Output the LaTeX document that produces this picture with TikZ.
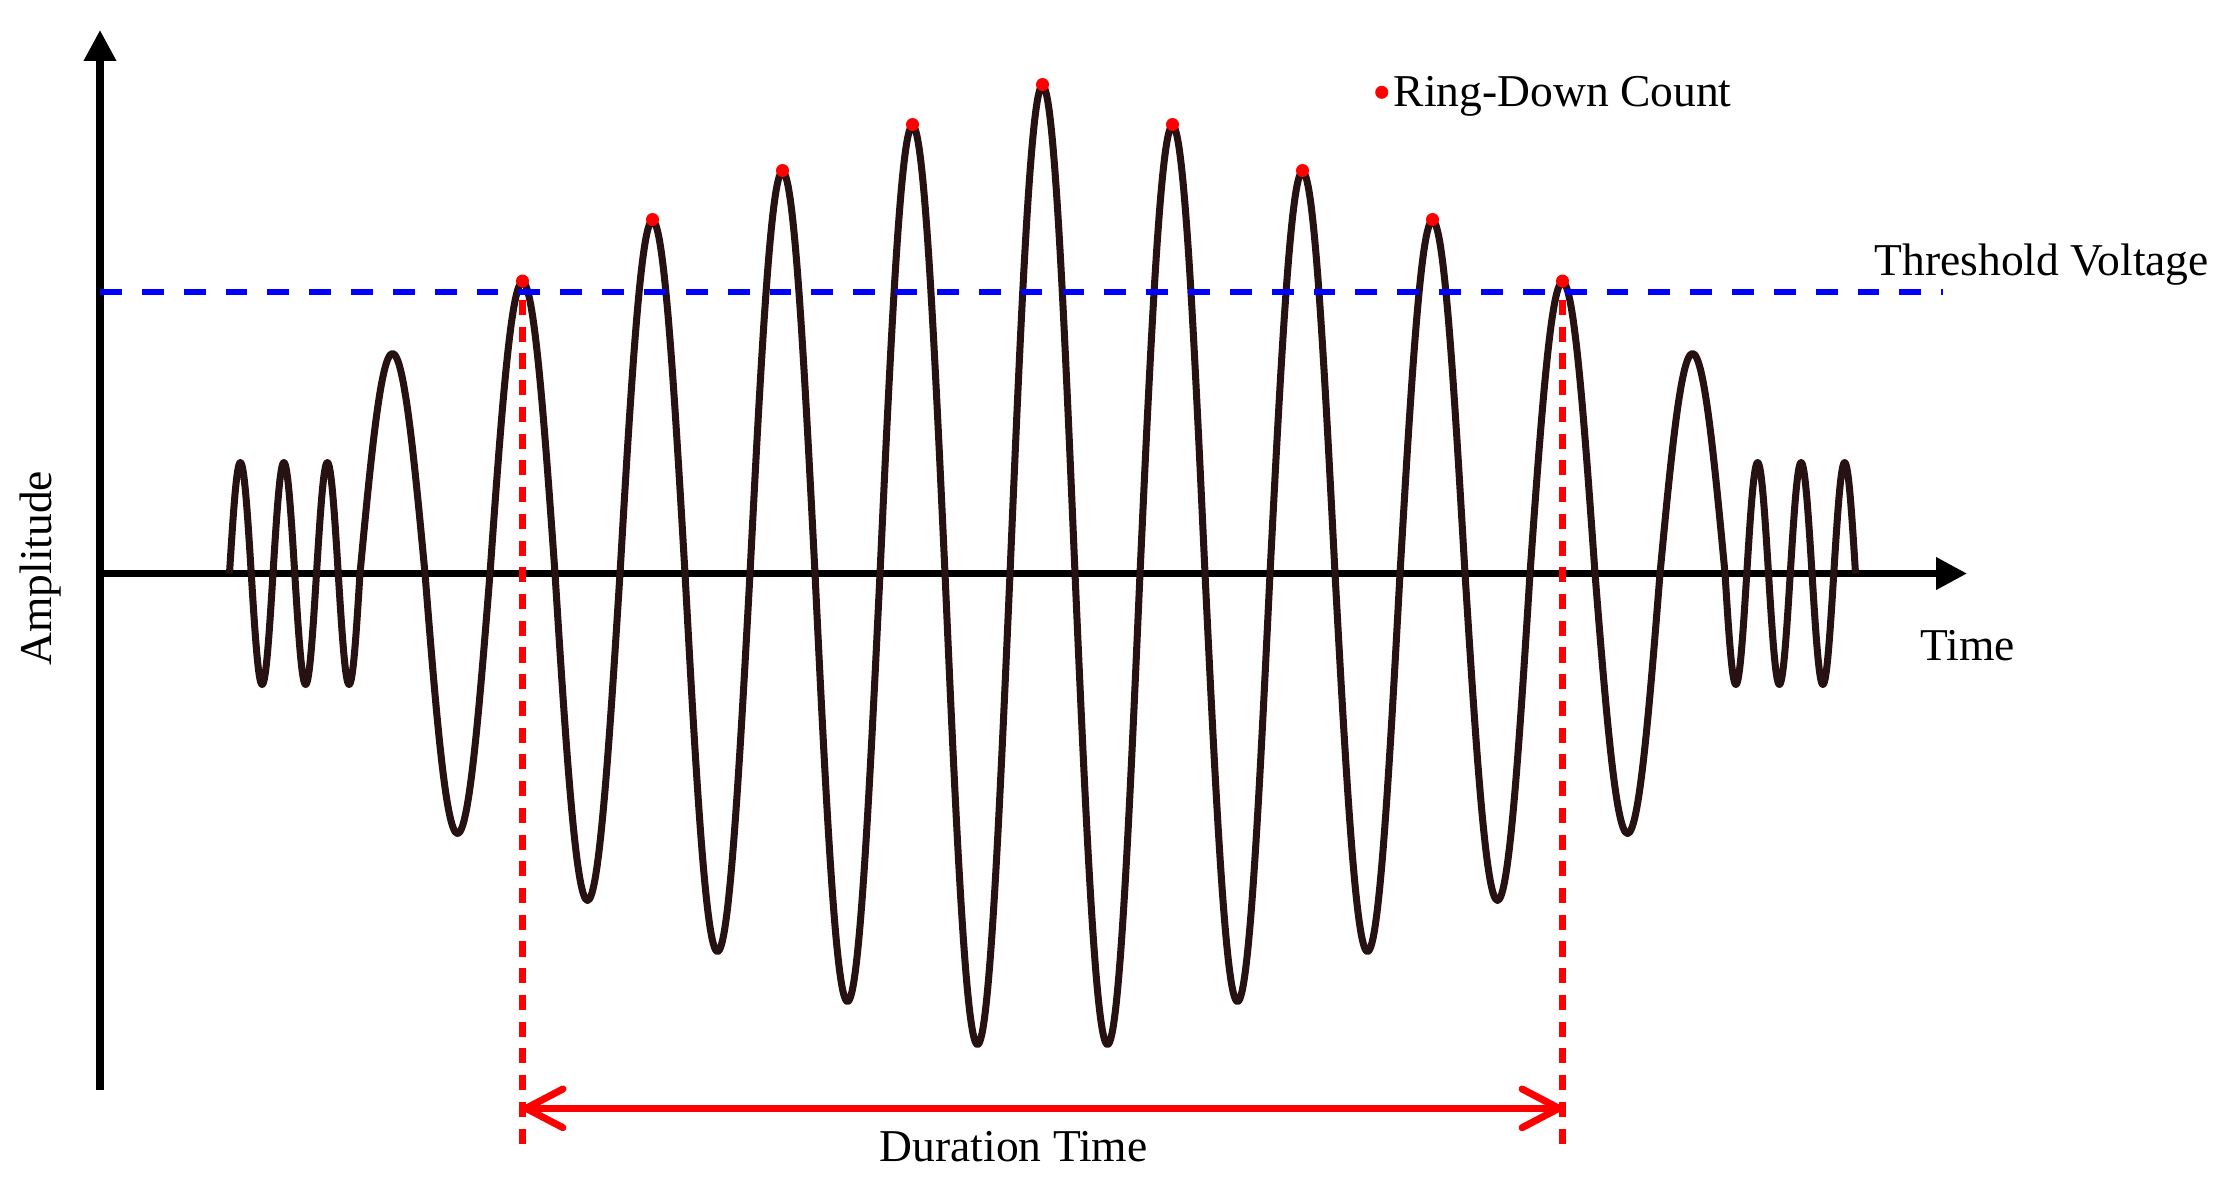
\documentclass[tikz,border=0pt]{standalone}
\usepackage{fontspec}
\setmainfont{Liberation Serif}
\usetikzlibrary{arrows.meta}
\definecolor{wavec}{RGB}{38,18,18}
\definecolor{pured}{RGB}{255,0,0}
\definecolor{pureblue}{RGB}{0,0,255}
\tikzset{
  axisline/.style={line width=2pt, black, -{Triangle[length=8.8pt,width=8.8pt]}},
  waveline/.style={line width=2pt, wavec, line join=round},
  threshline/.style={line width=1.7pt, pureblue, dash pattern=on 6.2pt off 5.7pt},
  durline/.style={line width=1.8pt, pured, dash pattern=on 4.3pt off 3.3pt},
  durarrow/.style={line width=2pt, pured, {Straight Barb[length=10.5pt,width=11pt,round]}-{Straight Barb[length=10.5pt,width=11pt,round]}},
  peakdot/.style={fill=pured, draw=none},
  lbl/.style={font=\fontsize{12.95}{15}\selectfont, inner sep=0pt, anchor=base}
}
\begin{document}
\begin{tikzpicture}[x=0.01cm, y=-0.01cm]
\useasboundingbox (0,0) rectangle (2234,1199);
% coordinates
\coordinate (O) at (100,573.5);
\coordinate (ytop) at (100,30);
\coordinate (ybot) at (100,1090);
\coordinate (xend) at (1967,573.5);
\coordinate (th1) at (100,291.5);
\coordinate (th2) at (1943,291.5);
\coordinate (d1t) at (522.5,300);
\coordinate (d1b) at (522.5,1150);
\coordinate (d2t) at (1562.5,300);
\coordinate (d2b) at (1562.5,1150);
\coordinate (a1) at (522.5,1108.3);
\coordinate (a2) at (1562.5,1108.3);
% axes
\draw[axisline] (ybot) -- (ytop);
\draw[axisline] (O) -- (xend);
% waveform
\draw[waveline] (229.5,573.5)
 sin (240.375,462.5) cos (251.25,573.5)
 sin (262.125,684.5) cos (273,573.5)
 sin (283.875,462.5) cos (294.75,573.5)
 sin (305.625,684.5) cos (316.5,573.5)
 sin (327.375,462.5) cos (338.25,573.5)
 sin (349.125,684.5) cos (360,573.5)
 sin (392.5,353.5) cos (425,573.5)
 sin (457.5,833.5) cos (490,573.5)
 sin (522.5,282) cos (555,573.5)
 sin (587.5,900.5) cos (620,573.5)
 sin (652.5,220.5) cos (685,573.5)
 sin (717.5,951.5) cos (750,573.5)
 sin (782.5,171.5) cos (815,573.5)
 sin (847.5,1001.5) cos (880,573.5)
 sin (912.5,125.5) cos (945,573.5)
 sin (977.5,1044.5) cos (1010,573.5)
 sin (1042.5,85.5) cos (1075,573.5)
 sin (1107.5,1044.5) cos (1140,573.5)
 sin (1172.5,125.5) cos (1205,573.5)
 sin (1237.5,1001.5) cos (1270,573.5)
 sin (1302.5,171.5) cos (1335,573.5)
 sin (1367.5,951.5) cos (1400,573.5)
 sin (1432.5,220.5) cos (1465,573.5)
 sin (1497.5,900.5) cos (1530,573.5)
 sin (1562.5,282) cos (1595,573.5)
 sin (1627.5,833.5) cos (1660,573.5)
 sin (1692.5,353.5) cos (1725,573.5)
 sin (1735.875,684.5) cos (1746.75,573.5)
 sin (1757.625,462.5) cos (1768.5,573.5)
 sin (1779.375,684.5) cos (1790.25,573.5)
 sin (1801.125,462.5) cos (1812,573.5)
 sin (1822.875,684.5) cos (1833.75,573.5)
 sin (1844.625,462.5) cos (1855.5,573.5);
% threshold
\draw[threshline] (th1) -- (th2);
% duration lines
\draw[durline] (d1t) -- (d1b);
\draw[durline] (d2t) -- (d2b);
\draw[durarrow] (a1) -- (a2);
% ring-down dots
\foreach \px/\py in {522.5/281, 652.5/219.5, 782.5/170.5, 912.5/124.5, 1042.5/84.5, 1172.5/124.5, 1302.5/170.5, 1432.5/219.5, 1562.5/281}
  \fill[peakdot] (\px,\py) circle[radius=1.85pt];
% legend
\fill[peakdot] (1381.7,92.3) coordinate (legdot) circle[radius=1.85pt];
\node[lbl, anchor=base west] (ringlbl) at (1393,106.7) {Ring-Down Count};
\node[lbl] (thlbl) at (2041.7,275) {Threshold Voltage};
\node[lbl] (timelbl) at (1967.5,660) {Time};
\node[lbl, rotate=90] (amplbl) at (51.7,568.3) {Amplitude};
\node[lbl] (durlbl) at (1013.6,1161.7) {Duration Time};
\end{tikzpicture}
\end{document}
